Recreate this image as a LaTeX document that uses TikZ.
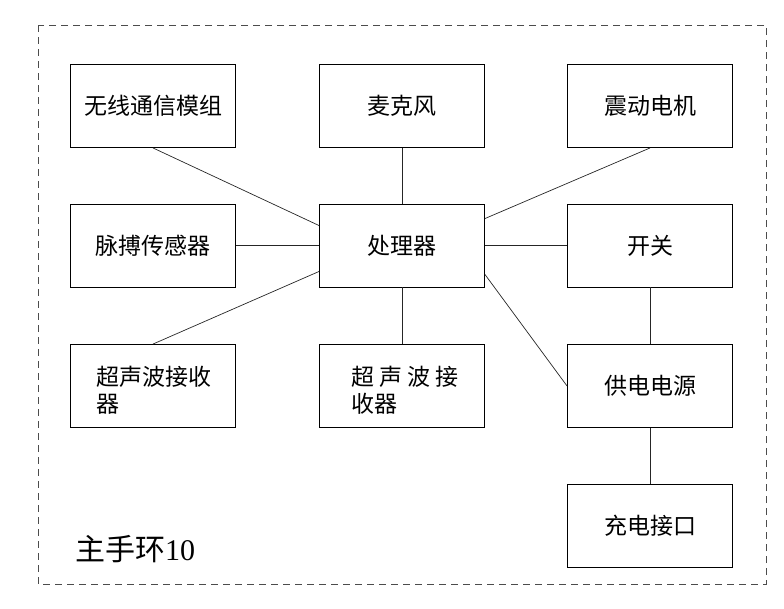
\documentclass[tikz,border=0pt]{standalone}
\usepackage{fontspec}
\setmainfont{Liberation Serif}
\newfontfamily\cjk{Noto Sans CJK SC}
\begin{document}
\begin{tikzpicture}[x=1pt,y=-1pt,
  box/.style={draw=black,line width=0.9pt,minimum width=165pt,minimum height=83pt,inner sep=0pt,font=\cjk\fontsize{23}{27}\selectfont},
  txt/.style={inner sep=0pt,anchor=west,font=\cjk\fontsize{23}{27}\selectfont},
  conn/.style={line width=0.7pt,draw=black!85}]
\useasboundingbox (0,0) rectangle (784,608);
\draw[line width=0.9pt,draw=black!70,dash pattern=on 7pt off 5pt] (38,25) rectangle (766,584);
\node[box] (wx) at (153,106) {无线通信模组};
\node[box] (mic) at (402,106) {麦克风};
\node[box] (vib) at (650,106) {震动电机};
\node[box] (pulse) at (153,245.5) {脉搏传感器};
\node[box] (cpu) at (402,245.5) {处理器};
\node[box] (sw) at (650,245.5) {开关};
\node[box] (us1) at (153,386) {};
\node[box] (us2) at (402,386) {};
\node[box] (pwr) at (650,386) {供电电源};
\node[box] (chg) at (650,525.5) {充电接口};
\node[txt] (us1a) at (96,377) {超声波接收};
\node[txt] (us1b) at (96,404) {器};
\node[txt] (us2a) at (351,377) {超\hspace{5pt}声\hspace{5pt}波\hspace{5pt}接};
\node[txt] (us2b) at (351,404) {收器};
\node[inner sep=0pt,anchor=west] (lbl) at (75,549) {\fontsize{30}{34}\selectfont{\cjk 主手环}10};
\draw[conn] (wx.south) -- ([yshift=-22pt]cpu.north west);
\draw[conn] (mic.south) -- (cpu.north);
\draw[conn] (vib.south) -- ([yshift=-15pt]cpu.north east);
\draw[conn] (pulse.east) -- (cpu.west);
\draw[conn] (cpu.east) -- (sw.west);
\draw[conn] (us1.north) -- ([yshift=16pt]cpu.south west);
\draw[conn] (cpu.south) -- (us2.north);
\draw[conn] ([yshift=13pt]cpu.south east) -- (pwr.west);
\draw[conn] (sw.south) -- (pwr.north);
\draw[conn] (pwr.south) -- (chg.north);
\end{tikzpicture}
\end{document}
